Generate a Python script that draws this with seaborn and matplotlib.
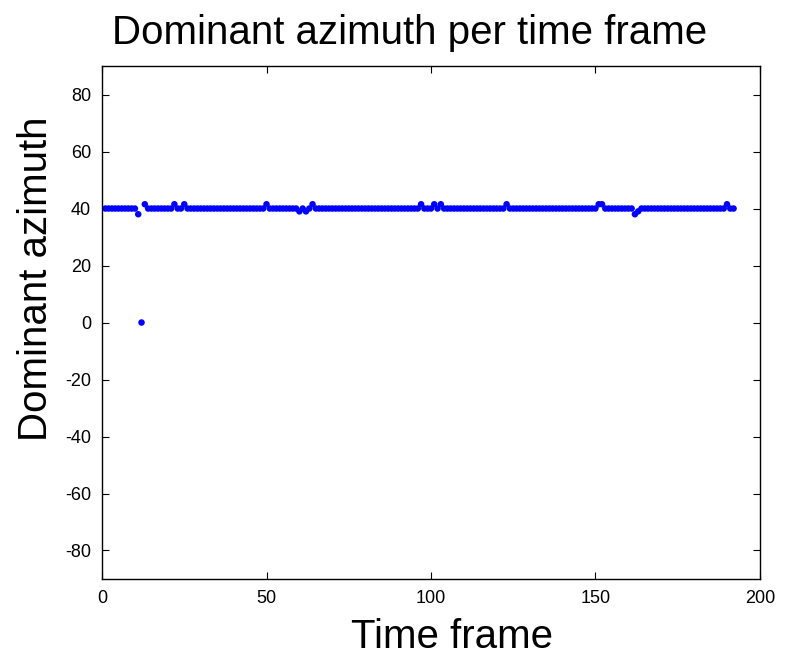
import numpy as np
import pandas as pd
import matplotlib
matplotlib.use('Agg')
import matplotlib.pyplot as plt
import seaborn as sns

# Dominant azimuth (degrees) for each time frame, 1..192
frames = list(range(1, 193))
azimuth = [
    40, 40, 40, 40, 40, 40, 40, 40, 40, 40, 38, 0, 41.5, 40, 40, 40,
    40, 40, 40, 40, 40, 41.5, 40, 40, 41.5, 40, 40, 40, 40, 40, 40, 40,
    40, 40, 40, 40, 40, 40, 40, 40, 40, 40, 40, 40, 40, 40, 40, 40,
    40, 41.5, 40, 40, 40, 40, 40, 40, 40, 40, 40, 39, 40, 39, 40, 41.5,
    40, 40, 40, 40, 40, 40, 40, 40, 40, 40, 40, 40, 40, 40, 40, 40,
    40, 40, 40, 40, 40, 40, 40, 40, 40, 40, 40, 40, 40, 40, 40, 40,
    41.5, 40, 40, 40, 41.5, 40, 41.5, 40, 40, 40, 40, 40, 40, 40, 40, 40,
    40, 40, 40, 40, 40, 40, 40, 40, 40, 40, 41.5, 40, 40, 40, 40, 40,
    40, 40, 40, 40, 40, 40, 40, 40, 40, 40, 40, 40, 40, 40, 40, 40,
    40, 40, 40, 40, 40, 40, 41.5, 41.5, 40, 40, 40, 40, 40, 40, 40, 40,
    40, 38, 39, 40, 40, 40, 40, 40, 40, 40, 40, 40, 40, 40, 40, 40,
    40, 40, 40, 40, 40, 40, 40, 40, 40, 40, 40, 40, 40, 41.5, 40, 40,
]

df = pd.DataFrame({'frame': frames, 'azimuth': azimuth})

sns.set_style('ticks')
plt.rcParams['font.family'] = ['Liberation Sans', 'DejaVu Sans']
plt.rcParams['axes.unicode_minus'] = False
plt.rcParams['text.color'] = 'black'
plt.rcParams['axes.labelcolor'] = 'black'

fig = plt.figure(figsize=(7.85, 6.59), dpi=100)
ax = fig.add_axes([0.130, 0.1214, 0.838, 0.7784])

sns.scatterplot(data=df, x='frame', y='azimuth', ax=ax, color='#0000ff',
                s=22, edgecolor='none', linewidth=0, legend=False)

ax.set_xlim(0, 200)
ax.set_ylim(-90, 90)
ax.set_xticks([0, 50, 100, 150, 200])
ax.set_yticks(np.arange(-80, 81, 20))
ax.tick_params(direction='in', length=5, width=0.8, top=True, right=True,
               labelsize=13, pad=8, colors='black')
for sp in ax.spines.values():
    sp.set_visible(True)
    sp.set_linewidth(1.0)
    sp.set_color('black')

ax.set_xlabel('Time frame', fontsize=29)
ax.xaxis.set_label_coords(0.532, -0.077)
ax.set_ylabel('Dominant azimuth', fontsize=29)
ax.yaxis.set_label_coords(-0.071, 0.585)
ax.set_title('Dominant azimuth per time frame', fontsize=29, x=0.467, pad=16)

fig.savefig('out.png', dpi=100)
